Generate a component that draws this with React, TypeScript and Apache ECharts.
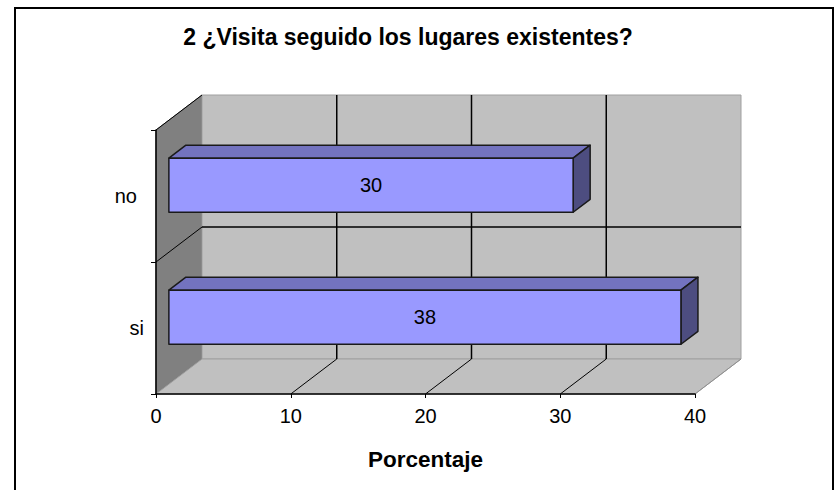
import React, { useEffect, useRef } from "react";
import * as echarts from "echarts";

const TITLE = "2 ¿Visita seguido los lugares existentes?";
const AXIS_NAME = "Porcentaje";
const categories = ["si", "no"];
const values = [38, 30];
const xTicks = [0, 10, 20, 30, 40];

const FONT = "'Liberation Sans', Arial, sans-serif";
const DX = 46;
const DY = -35;
const BAR_FRONT = 0.28;
const BAR_BACK = 0.65;
const BAR_H = 0.41;

export default function App() {
  const ref = useRef<HTMLDivElement>(null);
  useEffect(() => {
    const chart = echarts.init(ref.current!, null, { renderer: "svg" });
    const xMin = xTicks[0];
    const xMax = xTicks[xTicks.length - 1];
    const interval = xTicks[1] - xTicks[0];

    const wallsRender = (params: any, api: any) => {
      const cs = params.coordSys;
      const gx = cs.x, gy = cs.y, gw = cs.width, gh = cs.height;
      const children: any[] = [];
      children.push({
        type: "polygon",
        shape: { points: [[gx, gy], [gx + DX, gy + DY], [gx + DX, gy + gh + DY], [gx, gy + gh]] },
        style: { fill: "#808080", stroke: "#6a6a6a", lineWidth: 1 },
      });
      children.push({
        type: "rect",
        shape: { x: gx + DX, y: gy + DY, width: gw, height: gh },
        style: { fill: "#C0C0C0", stroke: "#a0a0a0", lineWidth: 1 },
      });
      children.push({
        type: "polygon",
        shape: { points: [[gx, gy + gh], [gx + gw, gy + gh], [gx + gw + DX, gy + gh + DY], [gx + DX, gy + gh + DY]] },
        style: { fill: "#C0C0C0", stroke: "#a0a0a0", lineWidth: 1 },
      });
      xTicks.forEach((t) => {
        const px = api.coord([t, 0])[0];
        if (t !== xMin && t !== xMax) {
          children.push({
            type: "line",
            shape: { x1: px + DX, y1: gy + DY, x2: px + DX, y2: gy + gh + DY },
            style: { stroke: "#000", lineWidth: 1.5 },
          });
        }
        if (t !== xMin) {
          children.push({
            type: "line",
            shape: { x1: px, y1: gy + gh, x2: px + DX, y2: gy + gh + DY },
            style: { stroke: t === xMax ? "#909090" : "#000", lineWidth: 1 },
          });
        }
      });
      const band = api.size([0, 1])[1];
      for (let i = 0; i <= categories.length; i++) {
        const py = gy + gh - i * band;
        if (i > 0 && i < categories.length) {
          children.push({
            type: "line",
            shape: { x1: gx + DX, y1: py + DY, x2: gx + gw + DX, y2: py + DY },
            style: { stroke: "#000", lineWidth: 1.5 },
          });
        }
        if (i > 0) {
          children.push({
            type: "line",
            shape: { x1: gx, y1: py, x2: gx + DX, y2: py + DY },
            style: { stroke: "#000", lineWidth: 1 },
          });
        }
      }
      return { type: "group", children };
    };

    const barRender = (params: any, api: any) => {
      const v = api.value(0);
      const c = api.value(1);
      const start = api.coord([0, c]);
      const end = api.coord([v, c]);
      const band = api.size([0, 1])[1];
      const h = band * BAR_H;
      const fx = DX * BAR_FRONT, fy = DY * BAR_FRONT;
      const bx = DX * (BAR_BACK - BAR_FRONT), by = DY * (BAR_BACK - BAR_FRONT);
      const x0 = start[0] + fx;
      const x1 = end[0] + fx;
      const yc = start[1] + fy - 1;
      const yT = yc - h / 2;
      const yB = yc + h / 2;
      const stroke = { stroke: "#1a1a1a", lineWidth: 1.5, lineJoin: "round" };
      return {
        type: "group",
        children: [
          {
            type: "polygon",
            shape: { points: [[x0, yT], [x1, yT], [x1 + bx, yT + by], [x0 + bx, yT + by]] },
            style: { fill: "#7373BF", ...stroke },
          },
          {
            type: "polygon",
            shape: { points: [[x1, yT], [x1 + bx, yT + by], [x1 + bx, yB + by], [x1, yB]] },
            style: { fill: "#4D4D80", ...stroke },
          },
          {
            type: "rect",
            shape: { x: x0, y: yT, width: x1 - x0, height: h },
            style: { fill: "#9999FF", ...stroke },
          },
          {
            type: "text",
            style: {
              text: String(v),
              x: (x0 + x1) / 2,
              y: yc,
              align: "center",
              verticalAlign: "middle",
              fontSize: 20,
              fontFamily: FONT,
              fill: "#000",
            },
          },
        ],
      };
    };

    chart.setOption({
      animation: false,
      graphic: [
        {
          type: "rect",
          shape: { x: 15, y: 8, width: 818, height: 500 },
          style: { fill: "none", stroke: "#000", lineWidth: 2 },
          z: 0,
        },
        {
          type: "text",
          x: 408,
          y: 37,
          style: {
            text: TITLE,
            align: "center",
            verticalAlign: "middle",
            fontSize: 23,
            fontWeight: "bold",
            fontFamily: FONT,
            fill: "#000",
          },
        },
      ],
      grid: { left: 156, right: 141, top: 130, bottom: 96, containLabel: false },
      xAxis: {
        type: "value",
        min: xMin,
        max: xMax,
        interval,
        z: 10,
        name: AXIS_NAME,
        nameLocation: "middle",
        nameGap: 54,
        nameTextStyle: { fontSize: 22.5, fontWeight: "bold", fontFamily: FONT, color: "#000" },
        axisLine: { show: true, lineStyle: { color: "#000", width: 1.5 } },
        axisTick: { show: true, length: 4, lineStyle: { color: "#000" } },
        axisLabel: { fontSize: 20, fontFamily: FONT, color: "#000", margin: 12 },
        splitLine: { show: false },
      },
      yAxis: {
        type: "category",
        data: categories,
        z: 10,
        axisLine: { show: true, lineStyle: { color: "#000", width: 1.5 } },
        axisTick: { show: true, length: 5, lineStyle: { color: "#000" } },
        axisLabel: {
          margin: 12,
          formatter: (v: string) => (v === "no" ? `{n|${v}}` : `{s|${v}}`),
          rich: {
            n: { fontSize: 20, fontFamily: FONT, color: "#000", padding: [0, 7, 0, 0] },
            s: { fontSize: 20, fontFamily: FONT, color: "#000" },
          },
        },
        splitLine: { show: false },
      },
      series: [
        {
          type: "custom",
          name: "walls",
          clip: false,
          z: 1,
          silent: true,
          data: [[0, 0]],
          renderItem: wallsRender,
        },
        {
          type: "custom",
          name: "Porcentaje",
          clip: false,
          z: 3,
          encode: { x: 0, y: 1 },
          data: values.map((v, i) => [v, i]),
          renderItem: barRender,
        },
      ],
    });
    return () => chart.dispose();
  }, []);
  return (
    <div
      ref={ref}
      style={{ position: "absolute", left: 0, top: 0, width: 836, height: 490, background: "#fff" }}
    />
  );
}
